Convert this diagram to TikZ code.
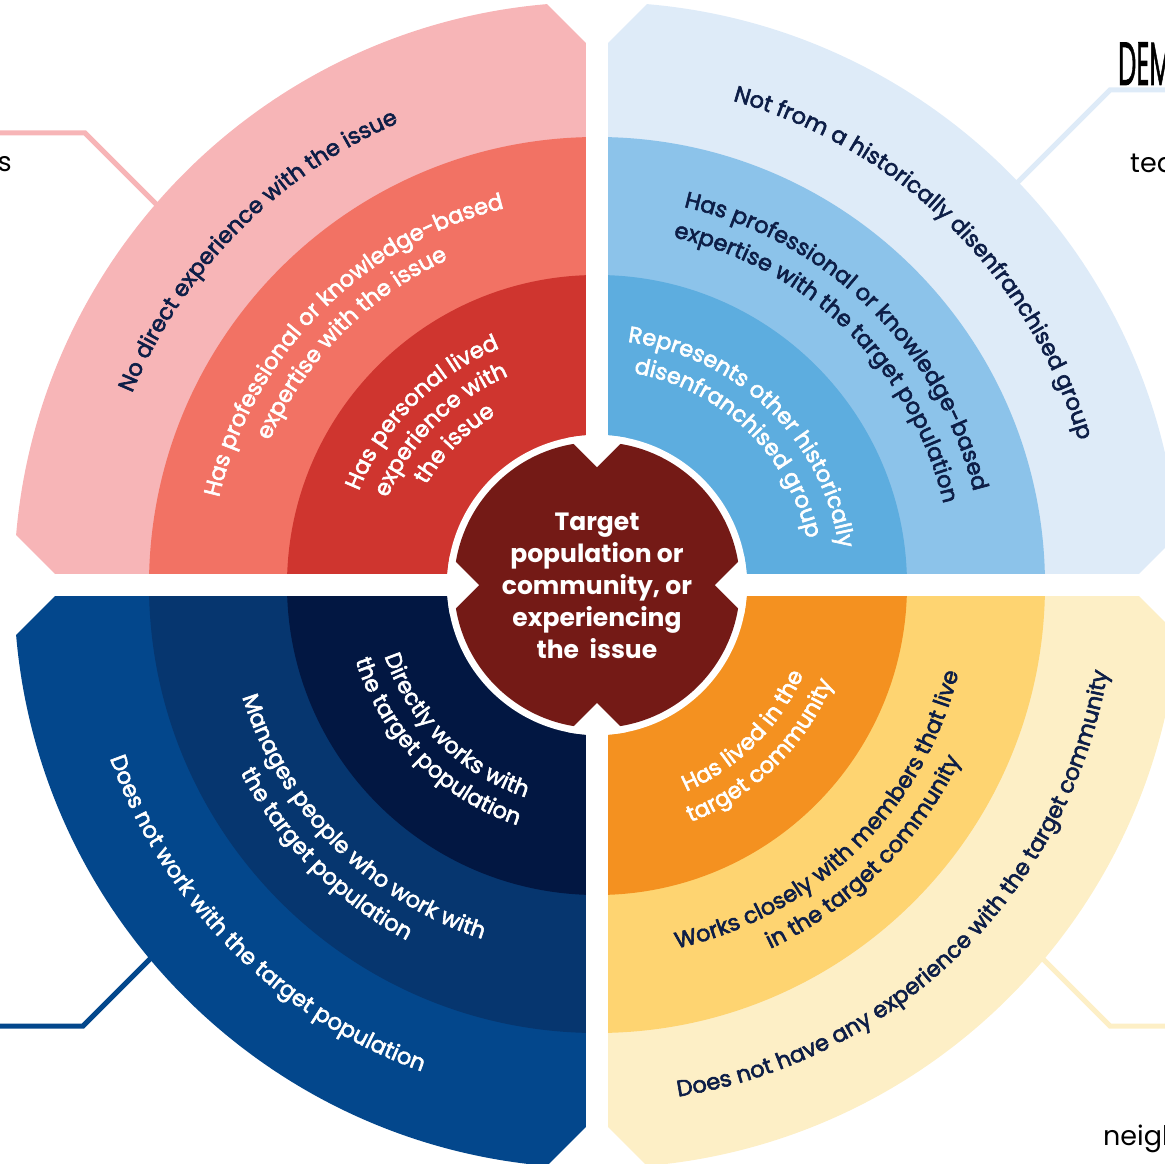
\documentclass[tikz,border=0pt]{standalone}
\usepackage{fontspec}
\setmainfont{Poppins}
\newfontfamily\ringfont[FakeBold=2.6]{Poppins}
\usetikzlibrary{decorations.text}
\definecolor{tlO}{HTML}{F7B5B7}
\definecolor{tlM}{HTML}{F27264}
\definecolor{tlI}{HTML}{CF352F}
\definecolor{trO}{HTML}{DEEBF8}
\definecolor{trM}{HTML}{8CC3EA}
\definecolor{trI}{HTML}{5DADDF}
\definecolor{blO}{HTML}{03478C}
\definecolor{blM}{HTML}{06366F}
\definecolor{blI}{HTML}{021742}
\definecolor{brO}{HTML}{FDEFC6}
\definecolor{brM}{HTML}{FED471}
\definecolor{brI}{HTML}{F49120}
\definecolor{core}{HTML}{741A16}
\definecolor{navy}{HTML}{0D1E47}
\newcommand\ringsize{\ringfont\fontsize{22.5}{27}\selectfont}
\newcommand\cwtext[4]{%
  \pgfmathsetmacro\myA{#2+50}%
  \pgfmathsetmacro\myB{#2-50}%
  \path[decorate,decoration={text along path,text align=center,text={|\ringsize\color{#1}|#4}}]
    (\myA:#3) arc[start angle=\myA,end angle=\myB,radius=#3];%
}
\newcommand\ccwtext[4]{%
  \pgfmathsetmacro\myA{#2-50}%
  \pgfmathsetmacro\myB{#2+50}%
  \path[decorate,decoration={text along path,text align=center,text={|\ringsize\color{#1}|#4}}]
    (\myA:#3) arc[start angle=\myA,end angle=\myB,radius=#3];%
}
\tikzset{conn/.style={line width=5pt},
  edgetext/.style={inner sep=0pt,font=\fontsize{27}{30}\selectfont,text=black}}
\begin{document}
\begin{tikzpicture}[x=1pt,y=1pt]
\useasboundingbox (-597,-578) rectangle (568,585);
% connectors
\coordinate (pA) at (-597,452); \coordinate (pB) at (-512,452); \coordinate (pC) at (-432,372);
\draw[conn,tlO] (pA) -- (pB) -- (pC);
\coordinate (qA) at (568,495); \coordinate (qB) at (513,495); \coordinate (qC) at (413,395);
\draw[conn,trO] (qA) -- (qB) -- (qC);
\coordinate (rA) at (568,-441); \coordinate (rB) at (513,-441); \coordinate (rC) at (438,-366);
\draw[conn,brO] (rA) -- (rB) -- (rC);
\coordinate (sA) at (-597,-441); \coordinate (sB) at (-514,-441); \coordinate (sC) at (-439,-366);
\draw[conn,blO] (sA) -- (sB) -- (sC);
% sectors
\foreach \a/\b/\o/\m/\i in {0/90/trO/trM/trI,90/180/tlO/tlM/tlI,180/270/blO/blM/blI,270/360/brO/brM/brI}{
  \fill[\o] (0,0) -- (\a:583) arc[start angle=\a,end angle=\b,radius=583] -- cycle;
  \fill[\m] (0,0) -- (\a:448) arc[start angle=\a,end angle=\b,radius=448] -- cycle;
  \fill[\i] (0,0) -- (\a:310) arc[start angle=\a,end angle=\b,radius=310] -- cycle;
}
% gaps and chamfers
\fill[white] (-10.75,-620) rectangle (10.75,620);
\fill[white] (-620,-10.75) rectangle (620,10.75);
\fill[white] (0,531) -- (-130,661) -- (130,661) -- cycle;
\fill[white] (0,-531) -- (-130,-661) -- (130,-661) -- cycle;
\fill[white] (531,0) -- (661,-130) -- (661,130) -- cycle;
\fill[white] (-531,0) -- (-661,-130) -- (-661,130) -- cycle;
% core
\fill[white] (0,0) circle[radius=150];
\fill[core] (0,0) circle[radius=143];
\begin{scope}
\clip (0,0) circle[radius=150];
\fill[white] (0,118) -- (-45,163) -- (45,163) -- cycle;
\fill[white] (0,-118) -- (-45,-163) -- (45,-163) -- cycle;
\fill[white] (118,0) -- (163,-45) -- (163,45) -- cycle;
\fill[white] (-118,0) -- (-163,-45) -- (-163,45) -- cycle;
\end{scope}
\node[text=white,font=\bfseries\fontsize{25}{32}\selectfont,align=center] (corelabel) at (0,-1)
  {Target\\population or\\community, or\\experiencing\\the\ \ issue};
% ring texts TL
\cwtext{navy}{135.4}{503}{No direct experience with the issue}
\cwtext{white}{135.4}{388}{Has professional or knowledge-based}
\cwtext{white}{135.4}{358}{expertise with the issue}
\cwtext{white}{135.4}{256}{Has personal lived}
\cwtext{white}{135.2}{227}{experience with}
\cwtext{white}{135.2}{198}{the issue}
% TR
\cwtext{navy}{45.5}{503}{Not from a historically disenfranchised group}
\cwtext{navy}{45.5}{388}{Has professional or knowledge-based}
\cwtext{navy}{45.4}{356}{expertise with the target population}
\cwtext{white}{45.7}{245}{Represents other historically}
\cwtext{white}{46.3}{215}{disenfranchised group}
% BL
\ccwtext{white}{225}{224}{Directly works with}
\ccwtext{white}{224.5}{253}{the target population}
\ccwtext{white}{224.8}{372}{Manages people who work with}
\ccwtext{white}{224.8}{403}{the target population}
\ccwtext{white}{224.9}{517}{Does not work with the target population}
% BR
\ccwtext{white}{315}{225}{Has lived in the}
\ccwtext{white}{314.5}{255}{target community}
\ccwtext{navy}{314.4}{372}{Works closely with members that live}
\ccwtext{navy}{314.9}{403}{in the target community}
\ccwtext{navy}{314.7}{518}{Does not have any experience with the target community}
% edge texts
\node[edgetext,anchor=base east] (lefts) at (-585,413) {s};
\node[edgetext,anchor=base west] (tea) at (533,412) {tea};
\node[edgetext,anchor=base west] (neigh) at (506,-560) {neigh};
\node[inner sep=0pt,anchor=base west,text=black,font=\fontsize{61}{61}\selectfont] (dem) at (521,500) {\scalebox{0.42}[1]{\addfontfeature{FakeBold=1.5}DEM}};
\end{tikzpicture}
\end{document}
